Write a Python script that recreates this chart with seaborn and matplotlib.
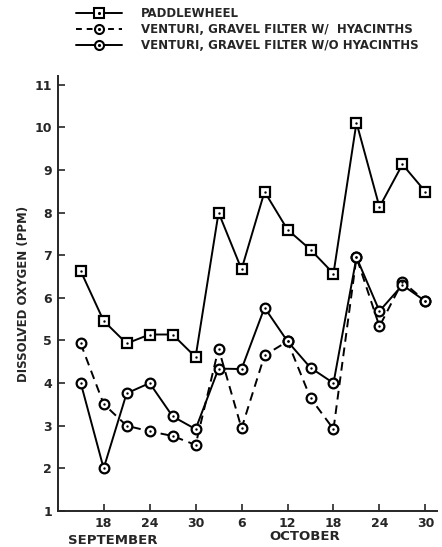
import pandas as pd
import seaborn as sns
import matplotlib.pyplot as plt
import matplotlib.dates as mdates
from matplotlib.lines import Line2D

# sampling dates (every 3 days, Sep 15 - Oct 30)
sep_days = [15, 18, 21, 24, 27, 30]
oct_days = [3, 6, 9, 12, 15, 18, 21, 24, 27, 30]

# dissolved oxygen, ppm
paddlewheel = [6.63, 5.46, 4.93, 5.14, 5.14, 4.61, 8.00, 6.67,
               8.49, 7.60, 7.13, 6.57, 10.11, 8.13, 9.13, 8.49]
with_hyacinths = [4.93, 3.51, 3.00, 2.87, 2.76, 2.55, 4.81, 2.94,
                  4.65, 4.98, 3.65, 2.92, 6.95, 5.33, 6.38, 5.92]
without_hyacinths = [4.01, 2.00, 3.76, 4.00, 3.22, 2.92, 4.34, 4.33,
                     5.77, 4.98, 4.36, 4.00, 6.95, 5.69, 6.30, 5.92]

series_names = ["PADDLEWHEEL",
                "VENTURI, GRAVEL FILTER W/  HYACINTHS",
                "VENTURI, GRAVEL FILTER W/O HYACINTHS"]

tick_dates = ["1978-09-18", "1978-09-24", "1978-09-30", "1978-10-06",
              "1978-10-12", "1978-10-18", "1978-10-24", "1978-10-30"]

dates = pd.to_datetime([f"1978-09-{d:02d}" for d in sep_days] +
                       [f"1978-10-{d:02d}" for d in oct_days])

df = pd.concat([
    pd.DataFrame({"date": dates, "do": vals, "series": name})
    for name, vals in zip(series_names, [paddlewheel, with_hyacinths, without_hyacinths])
])

sns.set_style("ticks")
plt.rcParams["font.family"] = ["DejaVu Sans"]
plt.rcParams["font.weight"] = "bold"

fig = plt.figure(figsize=(4.42, 5.47), dpi=100)
ax = fig.add_axes([0.1305, 0.0658, 0.858, 0.795])

markers = {series_names[0]: "s", series_names[1]: "o", series_names[2]: "o"}
dashes = {series_names[0]: "", series_names[1]: (4.5, 3), series_names[2]: ""}

sns.lineplot(data=df, x="date", y="do", hue="series", style="series",
             palette=["black"] * 3, markers=markers, dashes=dashes,
             markersize=7, markerfacecolor="white", markeredgecolor="black",
             markeredgewidth=1.6, linewidth=1.4, legend=False, ax=ax)
# little dot in the centre of each symbol
sns.scatterplot(data=df, x="date", y="do", color="black", s=3,
                linewidth=0, legend=False, ax=ax, zorder=5)

ax.set_ylim(1, 11.2)
ax.set_yticks(range(1, 12))
ax.set_xlim(pd.Timestamp("1978-09-12"), pd.Timestamp("1978-10-31 12:00"))
ax.set_xticks(pd.to_datetime(tick_dates))
ax.xaxis.set_major_formatter(mdates.DateFormatter("%-d"))
ax.tick_params(direction="in", length=5, width=1.2, labelsize=9)
for lab in ax.get_xticklabels() + ax.get_yticklabels():
    lab.set_fontweight("bold")
ax.tick_params(axis="y", pad=4)
ax.tick_params(axis="x", pad=4)

for side in ["top", "right"]:
    ax.spines[side].set_visible(False)
for side in ["left", "bottom"]:
    ax.spines[side].set_linewidth(1.4)

ax.set_xlabel("")
ax.set_ylabel("DISSOLVED OXYGEN (PPM)", fontsize=8.5, fontweight="bold", labelpad=3)

fig.text(0.255, 0.006, "SEPTEMBER", fontsize=9.5, fontweight="bold", ha="center")
fig.text(0.69, 0.012, "OCTOBER", fontsize=9.5, fontweight="bold", ha="center")

dot = Line2D([], [], marker=".", color="black", markersize=2.5, linestyle="none")
handles = []
for name in series_names:
    ls = (0, (3, 2.5)) if name == series_names[1] else "-"
    h = Line2D([], [], color="black", linewidth=1.4, linestyle=ls, marker=markers[name],
               markersize=6.5, markerfacecolor="white", markeredgecolor="black",
               markeredgewidth=1.5)
    handles.append((h, dot))
fig.legend(handles, series_names, loc="upper left", bbox_to_anchor=(0.148, 1.006),
           frameon=False, handlelength=3.9, handletextpad=1.6,
           labelspacing=0.25, prop={"weight": "bold", "size": 8.5})

fig.savefig("out.png", dpi=100)
